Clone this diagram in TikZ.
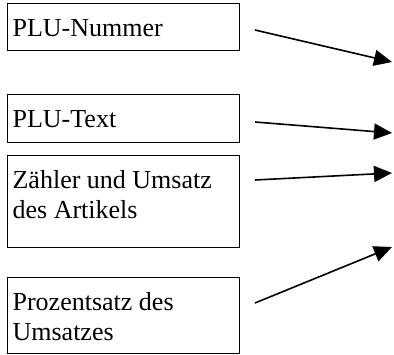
\documentclass[tikz,border=0pt]{standalone}
\usepackage{fontspec}
\setmainfont{Liberation Serif}
\usetikzlibrary{arrows.meta}

\begin{document}
\begin{tikzpicture}[
    x=1pt, y=-1pt,
    field/.style={rectangle, draw, line width=1.2pt, anchor=north west, align=flush left,
        text width=222pt, inner xsep=5pt, inner ysep=5pt, text height=28pt,
        font=\fontsize{26}{29.5}\selectfont,
        execute at begin node={\spaceskip=6.5pt\relax}},
    pointer/.style={line width=1.6pt, -{Triangle[length=18pt, width=16pt]}},
]
\useasboundingbox (0,0) rectangle (394,354);

% fields on the left
\node[field, text depth=9pt]  (nummer) at (7,3)   {PLU-Nummer};
\node[field, text depth=10pt] (text)   at (7,94)  {PLU-Text};
\node[field, text depth=54pt] (zaehler) at (7,155) {Zähler und Umsatz\\des Artikels};
\node[field, text depth=38pt] (prozent) at (7,277) {Prozentsatz des\\Umsatzes};

% arrow ends
\coordinate (nummer-out) at (255,30);
\coordinate (text-out)   at (255,122);
\coordinate (zaehler-out) at (255,180);
\coordinate (prozent-out) at (255,303);
\coordinate (nummer-in)  at (392,62);
\coordinate (text-in)    at (392,133);
\coordinate (zaehler-in) at (392,173);
\coordinate (prozent-in) at (392,247);

\draw[pointer] (nummer-out) -- (nummer-in);
\draw[pointer] (text-out) -- (text-in);
\draw[pointer] (zaehler-out) -- (zaehler-in);
\draw[pointer] (prozent-out) -- (prozent-in);

\end{tikzpicture}
\end{document}
